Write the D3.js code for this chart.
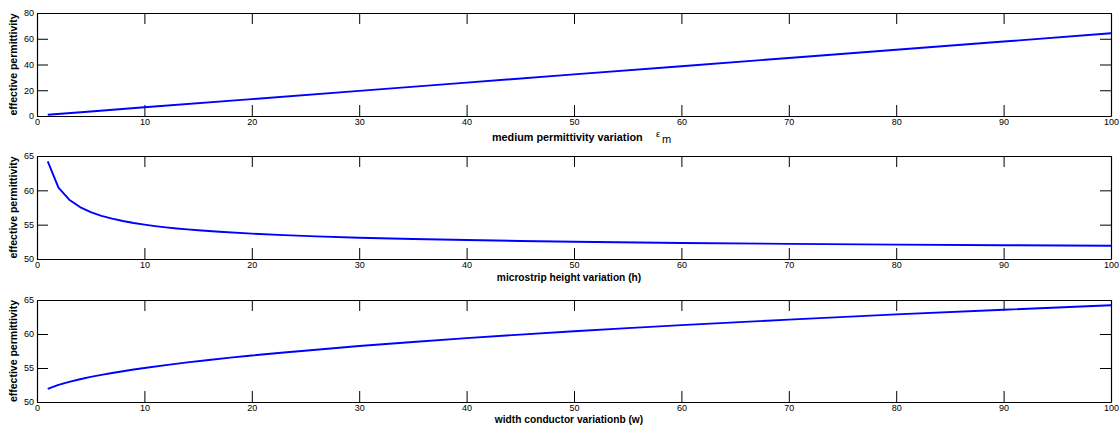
<!DOCTYPE html>
<html><head><meta charset="utf-8">
<script src="https://cdn.jsdelivr.net/npm/d3@7"></script>
<style>
body{margin:0;background:#fff;}
svg{display:block;font-family:"Liberation Sans",Arial,Helvetica,sans-serif;}
</style></head>
<body><svg id="c" width="1119" height="429"></svg>
<script>
// Panel 1: medium permittivity variation
const x1 = [1,5,10,20,30,40,50,60,70,80,90,100];
const y1 = [1.0,3.55,6.75,13.13,19.52,25.91,32.3,38.68,45.07,51.46,57.84,64.23];
// Panel 2: microstrip height variation (h)
const x2 = [1,2,3,4,5,6,7,8,9,10,11,12,13,14,15,17,20,23,26,30,35,40,45,50,60,70,80,90,100];
const y2 = [64.23,60.40,58.64,57.57,56.84,56.29,55.87,55.53,55.24,55.0,54.79,54.61,54.45,54.31,54.18,53.97,53.69,53.48,53.30,53.1,52.91,52.76,52.63,52.52,52.34,52.21,52.1,52.01,51.93];
// Panel 3: width conductor variation (w)
const x3 = [1,2,3,4,5,6,7,8,9,10,12,14,16,18,20,23,26,30,35,40,45,50,55,60,70,80,90,100];
const y3 = [51.93,52.52,52.97,53.35,53.69,53.99,54.27,54.53,54.77,55.0,55.43,55.82,56.17,56.52,56.84,57.27,57.68,58.23,58.83,59.39,59.91,60.4,60.86,61.3,62.12,62.88,63.57,64.23];

const xTicks = [0,10,20,30,40,50,60,70,80,90,100];
const yTicks1 = [0,20,40,60,80];
const yTicks2 = [50,55,60,65];
const yTicks3 = [50,55,60,65];
const yLabel = "effective permittivity";

const panels = [
  {xs:x1, ys:y1, dom:[0,80], ticks:yTicks1, top:13, bottom:116, lab:"eps", labY:141},
  {xs:x2, ys:y2, dom:[50,65], ticks:yTicks2, top:156, bottom:259, lab:"microstrip height variation (h)", labY:281},
  {xs:x3, ys:y3, dom:[50,65], ticks:yTicks3, top:300, bottom:402, lab:"width conductor variationb (w)", labY:423}
];
const L = 37, R = 1111, TL = 11;
const svg = d3.select("#c");

panels.forEach(p => {
  const x = d3.scaleLinear().domain([0,100]).range([L,R]);
  const y = d3.scaleLinear().domain(p.dom).range([p.bottom,p.top]);
  const g = svg.append("g");
  const ax = g.append("g").attr("transform",`translate(0,${p.bottom})`)
    .call(d3.axisBottom(x).tickValues(xTicks).tickSizeInner(-TL).tickSizeOuter(0).tickPadding(3).tickFormat(d3.format("d")));
  const at = g.append("g").attr("transform",`translate(0,${p.top})`)
    .call(d3.axisTop(x).tickValues(xTicks).tickSizeInner(-TL).tickSizeOuter(0).tickFormat(""));
  const ay = g.append("g").attr("transform",`translate(${L},0)`)
    .call(d3.axisLeft(y).tickValues(p.ticks).tickSizeInner(-TL).tickSizeOuter(0).tickPadding(3).tickFormat(d3.format("d")));
  const ar = g.append("g").attr("transform",`translate(${R},0)`)
    .call(d3.axisRight(y).tickValues(p.ticks).tickSizeInner(-TL).tickSizeOuter(0).tickFormat(""));
  [ax,at,ay,ar].forEach(a=>{
    a.select(".domain").attr("stroke","#000").attr("stroke-width",1.2);
    a.selectAll(".tick line").attr("stroke","#000").attr("stroke-width",1);
    a.selectAll(".tick text").attr("font-size",9).attr("fill","#000")
      .attr("font-family","'Liberation Sans',Arial,sans-serif");
  });
  const line = d3.line().x((d,i)=>x(p.xs[i])).y(d=>y(d));
  g.append("path").datum(p.ys).attr("d",line).attr("fill","none")
    .attr("stroke","#0000ff").attr("stroke-width",1.9).attr("stroke-linejoin","round");
  g.append("text").attr("transform",`translate(17,${(p.top+p.bottom)/2}) rotate(-90)`)
    .attr("text-anchor","middle").attr("font-size",10.5).attr("font-weight","bold").text(yLabel);
  if (p.lab === "eps") {
    const t = g.append("text").attr("x",492).attr("y",p.labY).attr("text-anchor","start")
      .attr("font-size",10.8).attr("font-weight","bold");
    t.append("tspan").text("medium permittivity variation");
    t.append("tspan").attr("x",656).attr("font-weight","normal").attr("font-size",9.5).attr("dy",-4).text("ε");
    t.append("tspan").attr("x",662).attr("font-weight","normal").attr("font-size",11).attr("dy",6).text("m");
  } else {
    g.append("text").attr("x",(L+R)/2-5).attr("y",p.labY).attr("text-anchor","middle")
      .attr("font-size",10.2).attr("font-weight","bold").text(p.lab);
  }
});
</script></body></html>
